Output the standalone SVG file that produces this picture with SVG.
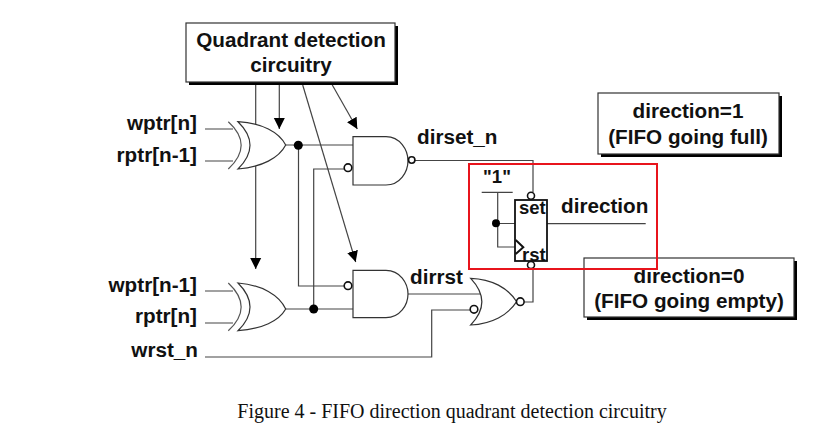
<svg xmlns="http://www.w3.org/2000/svg" width="838" height="438" viewBox="0 0 838 438">
<style>
.w{fill:none;stroke:#444;stroke-width:1.2}
.g{fill:none;stroke:#555;stroke-width:1.2}
.b{fill:#fff;stroke:#333;stroke-width:1.2}
.s{fill:#000}
.d{fill:#000;stroke:none}
.i{fill:#fff;stroke:#111;stroke-width:1.6}
.t{font-family:"Liberation Sans",Arial,sans-serif;font-weight:700;font-size:20.7px;fill:#111}
.n{font-size:18.5px}
.m{text-anchor:middle}
.e{text-anchor:end}
</style>
<defs>
<marker id="arrow" markerUnits="userSpaceOnUse" markerWidth="12" markerHeight="12" refX="11" refY="6" orient="auto"><path d="M0,0.5 L11,6 L0,11.5 Z" fill="#000"/></marker>
</defs>
<rect width="838" height="438" fill="#fff"/>
<g id="connectors">
<path class="w" d="M255.7,82V269" marker-end="url(#arrow)"/>
<path class="w" d="M279.3,85V129" marker-end="url(#arrow)"/>
<path class="w" d="M302.7,85L355.7,262" marker-end="url(#arrow)"/>
<path class="w" d="M332.3,85L357.3,129" marker-end="url(#arrow)"/>
<path class="w" d="M205,129H233M205,161H233M205,291H233M205,323H233"/>
<path class="w" d="M285.7,145H353M298.5,145V286H344"/>
<path class="w" d="M285.7,309H353M313.7,309V169H344"/>
<path class="w" d="M415,160.5H533V192"/>
<path class="w" d="M408,294H481"/>
<path class="w" d="M470,310H431.7V357H205"/>
<path class="w" d="M524,302H533V268"/>
<path class="w" d="M481.7,192.3H512.7M497.7,192.3V247H515M496,223.5H515M547,223.7H645.7"/>
<circle class="d" cx="298.3" cy="145.3" r="4.5"/>
<circle class="d" cx="313.7" cy="309" r="4.5"/>
<circle class="d" cx="496" cy="223.3" r="4"/>
</g>
<g id="box-quadrant">
<rect class="s" x="189" y="26" width="209" height="59"/>
<rect class="b" x="186" y="23" width="209" height="59"/>
<text class="t m" x="291" y="47">Quadrant detection</text>
<text class="t m" x="291" y="72">circuitry</text>
</g>
<g id="label-wptr-n"><text class="t e" x="197" y="130">wptr[n]</text></g>
<g id="label-rptr-n1"><text class="t e" x="197" y="162">rptr[n-1]</text></g>
<g id="label-wptr-n1"><text class="t e" x="197" y="292">wptr[n-1]</text></g>
<g id="label-rptr-n"><text class="t e" x="197" y="323">rptr[n]</text></g>
<g id="label-wrst"><text class="t e" x="198" y="357">wrst_n</text></g>
<g id="xor-upper">
<path class="g" d="M228.3,121.7Q254,145 228.3,169"/>
<path class="b" d="M238,121.7C262,123 279,132 285.7,145C279,158 262,167 238,169Q262,145 238,121.7Z"/>
</g>
<g id="xor-lower">
<path class="g" d="M228.3,283Q254,307 228.3,330.7"/>
<path class="b" d="M238,283C262,285 279,295 285.7,309C279,321 262,329 238,330.7Q262,307 238,283Z"/>
</g>
<g id="nand-upper">
<path class="b" d="M353,136.7H386C400,136.7 408,150 408,160.8C408,172 400,185 386,185H353Z"/>
<circle class="i" cx="411.7" cy="160" r="3.2"/>
<circle class="i" cx="348" cy="167.7" r="3.8"/>
<text class="t" x="417" y="144">dirset_n</text>
</g>
<g id="and-lower">
<path class="b" d="M353,270.3H386C400,270.3 408,283 408,294C408,305 400,317.7 386,317.7H353Z"/>
<circle class="i" cx="348" cy="285.7" r="3.8"/>
<text class="t" x="410" y="284">dirrst</text>
</g>
<g id="nor">
<path class="b" d="M470.7,278.3C492,279 508,288 516.7,301.7C508,315 492,324 470.7,325Q493,302 470.7,278.3Z"/>
<circle class="i" cx="520.3" cy="301.7" r="3.8"/>
<circle class="i" cx="474" cy="309.3" r="3.8"/>
</g>
<g id="flipflop">
<rect x="515" y="200" width="32" height="61" fill="#fff" stroke="#111" stroke-width="1.8"/>
<path d="M515.7,240L523.3,247.3L515.7,254" fill="none" stroke="#111" stroke-width="2"/>
<circle class="i" cx="531" cy="195.7" r="3.5"/>
<circle class="i" cx="531" cy="265" r="3.5"/>
<text class="t n" x="519" y="214">set</text>
<text class="t n" x="522" y="261">rst</text>
<text class="t m n" x="497" y="183">"1"</text>
<text class="t" x="561" y="213">direction</text>
</g>
<g id="box-direction-1">
<rect class="s" x="601" y="96" width="181" height="61"/>
<rect class="b" x="598" y="93" width="181" height="61"/>
<text class="t m" x="688" y="118">direction=1</text>
<text class="t m" x="688" y="144">(FIFO going full)</text>
</g>
<g id="box-direction-0">
<rect class="s" x="587" y="261" width="210" height="59"/>
<rect class="b" x="584" y="258" width="210" height="59"/>
<text class="t m" x="689" y="283">direction=0</text>
<text class="t m" x="689" y="308">(FIFO going empty)</text>
</g>
<rect id="highlight" x="469" y="164" width="188" height="105" fill="none" stroke="#e8141c" stroke-width="2"/>
<text id="caption" x="452" y="418" text-anchor="middle" font-family="'Liberation Serif','Times New Roman',serif" font-size="20px" fill="#111">Figure 4 - FIFO direction quadrant detection circuitry</text>
</svg>
